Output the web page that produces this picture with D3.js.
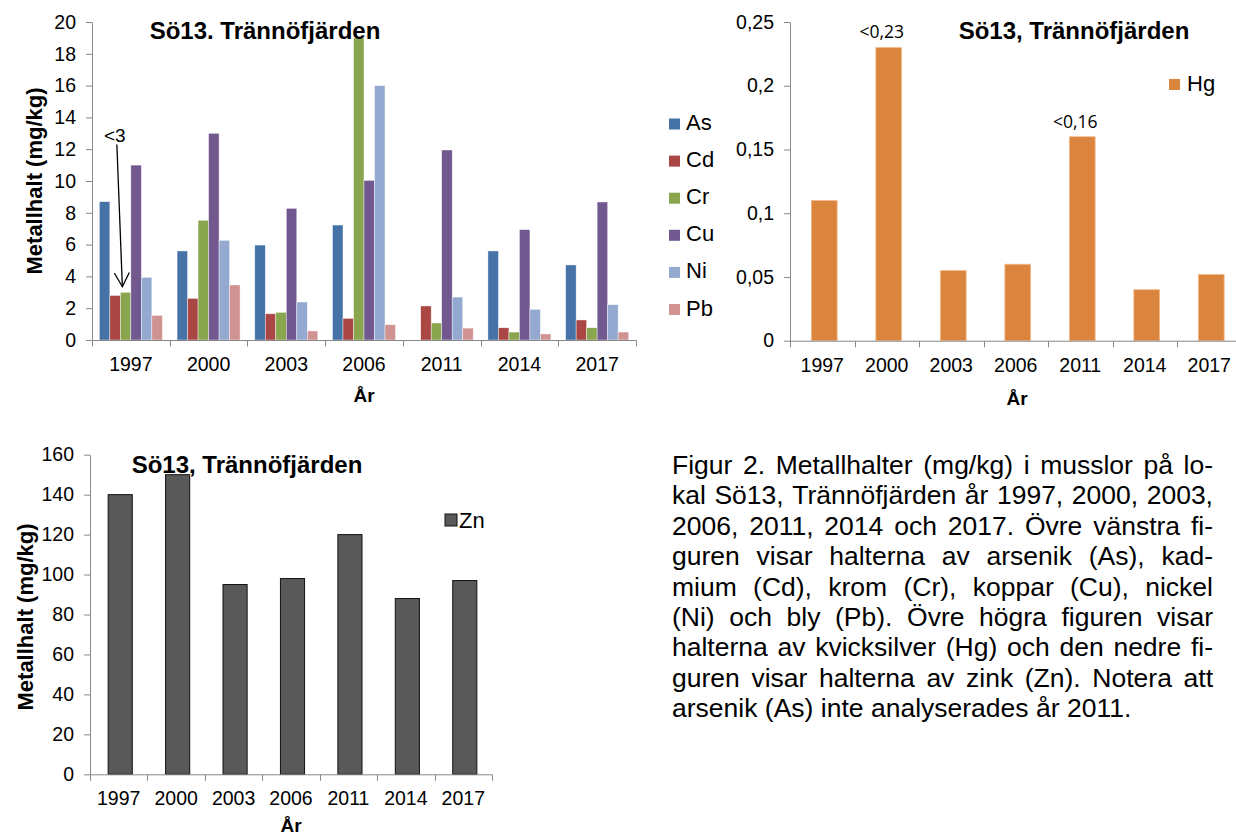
<!DOCTYPE html>
<html lang="sv">
<head>
<meta charset="UTF-8">
<title>Metallhalter Sö13, Trännöfjärden</title>
<script src="https://d3js.org/d3.v7.min.js"></script>
<style>
  body { margin: 0; background: #fff; }
  svg { display: block; font-family: "Liberation Sans", Arial, sans-serif; }
  .axis path, .axis line { stroke: #878787; stroke-width: 1; }
  .axis text { font-size: 19.5px; fill: #000; font-family: "Liberation Sans", Arial, sans-serif; }
  .title { font-size: 24px; font-weight: bold; }
  .ytitle { font-size: 22px; font-weight: bold; }
  .xtitle { font-size: 19px; font-weight: bold; }
  .legend text { font-size: 22px; }
  .note { font-family: "Open Sans", sans-serif; font-size: 17.5px; }
  .caption { font-size: 26.5px; }
</style>
</head>
<body>
<svg id="fig" width="1236" height="838"></svg>
<script>
  // data
  const years = ["1997", "2000", "2003", "2006", "2011", "2014", "2017"];
  const metals = ["As", "Cd", "Cr", "Cu", "Ni", "Pb"];
  const asVals = [8.7, 5.6, 5.97, 7.23, null, 5.6, 4.72];   // As not analysed 2011
  const cdVals = [2.8, 2.62, 1.65, 1.36, 2.14, 0.77, 1.26];
  const crVals = [3.0, 7.53, 1.74, 19.0, 1.07, 0.5, 0.77];
  const cuVals = [11.0, 13.0, 8.28, 10.04, 11.95, 6.94, 8.68];
  const niVals = [3.94, 6.27, 2.39, 16.0, 2.7, 1.93, 2.22];
  const pbVals = [1.55, 3.46, 0.57, 0.96, 0.75, 0.38, 0.5];
  const hgVals = [0.11, 0.23, 0.055, 0.06, 0.16, 0.04, 0.052];
  const hgNotes = ["", "<0,23", "", "", "<0,16", "", ""];
  const znVals = [140, 150, 95, 98, 120, 88, 97];

  const ticks1 = [0, 2, 4, 6, 8, 10, 12, 14, 16, 18, 20];
  const ticksHg = [0, 0.05, 0.1, 0.15, 0.2, 0.25];
  const ticksZn = [0, 20, 40, 60, 80, 100, 120, 140, 160];

  const metalColors = ["#4572a7", "#aa4643", "#89a54e", "#71588f", "#93a9cf", "#d19392"];
  const hgColor = "#db843d";
  const znColor = "#595959";

  const caption = [
    "Figur 2. Metallhalter (mg/kg) i musslor på lo-",
    "kal Sö13, Trännöfjärden år 1997, 2000, 2003,",
    "2006, 2011, 2014 och 2017. Övre vänstra fi-",
    "guren visar halterna av arsenik (As), kad-",
    "mium (Cd), krom (Cr), koppar (Cu), nickel",
    "(Ni) och bly (Pb). Övre högra figuren visar",
    "halterna av kvicksilver (Hg) och den nedre fi-",
    "guren visar halterna av zink (Zn). Notera att",
    "arsenik (As) inte analyserades år 2011."
  ];

  const svg = d3.select("#fig");
  const commaFmt = d3.formatLocale({ decimal: ",", thousands: " ", grouping: [3], currency: ["", ""] }).format("~g");

  // axes the way Excel draws them: ticks between categories
  function drawAxes(x, y, yTicks, fmt, labelGap) {
    const y0 = y.range()[0];
    svg.append("g").attr("class", "axis")
      .attr("transform", `translate(${x.range()[0]},0)`)
      .call(d3.axisLeft(y).tickValues(yTicks).tickFormat(fmt).tickSize(6).tickSizeOuter(0).tickPadding(10));
    const xa = svg.append("g").attr("class", "axis")
      .attr("transform", `translate(0,${y0})`)
      .call(d3.axisBottom(x).tickSize(0).tickPadding(labelGap));
    xa.selectAll(".sep")
      .data(d3.range(x.domain().length + 1))
      .join("line")
      .attr("class", "sep")
      .attr("x1", i => Math.round(x.range()[0] + i * x.step()) + 0.5)
      .attr("x2", i => Math.round(x.range()[0] + i * x.step()) + 0.5)
      .attr("y1", 0.5)
      .attr("y2", 6.5);
  }

  // ---- top left: As, Cd, Cr, Cu, Ni, Pb ----
  const x1 = d3.scaleBand().domain(years).range([92, 636]);
  const xm = d3.scaleBand().domain(metals).range([0, x1.bandwidth()]).paddingOuter(0.7);
  const y1 = d3.scaleLinear().domain([0, 20]).range([340, 22]);
  const series1 = [asVals, cdVals, crVals, cuVals, niVals, pbVals];

  metals.forEach((m, j) => {
    svg.append("g")
      .selectAll("rect")
      .data(years.map((yr, i) => ({ yr, v: series1[j][i] })).filter(d => d.v != null))
      .join("rect")
      .attr("x", d => x1(d.yr) + xm(m))
      .attr("y", d => y1(d.v))
      .attr("width", xm.bandwidth())
      .attr("height", d => y1(0) - y1(d.v))
      .attr("fill", metalColors[j])
      .attr("stroke", "#fff")
      .attr("stroke-width", 0.6)
      .attr("stroke-opacity", 0.7);
  });
  drawAxes(x1, y1, ticks1, d3.format("d"), 17);

  svg.append("text").attr("class", "title").attr("x", 265).attr("y", 39)
    .attr("text-anchor", "middle").text("Sö13. Trännöfjärden");
  svg.append("text").attr("class", "ytitle")
    .attr("transform", "translate(42,181) rotate(-90)")
    .attr("text-anchor", "middle").text("Metallhalt (mg/kg)");
  svg.append("text").attr("class", "xtitle").attr("x", 364).attr("y", 402)
    .attr("text-anchor", "middle").text("År");

  const leg1 = svg.append("g").attr("class", "legend");
  metals.forEach((m, j) => {
    const yc = 124 + j * 37.1;
    leg1.append("rect").attr("x", 669).attr("y", yc - 5.5).attr("width", 11).attr("height", 11)
      .attr("fill", metalColors[j]);
    leg1.append("text").attr("x", 686).attr("y", yc + 6).text(m);
  });

  // "<3" arrow pointing at Cr 1997
  svg.append("defs").append("marker")
    .attr("id", "vhead")
    .attr("markerUnits", "userSpaceOnUse")
    .attr("markerWidth", 18).attr("markerHeight", 18)
    .attr("refX", 14).attr("refY", 8)
    .attr("orient", "auto")
    .append("path")
    .attr("d", "M0,0.5 L14,8 L0,15.5")
    .attr("fill", "none").attr("stroke", "#000").attr("stroke-width", 1.3);

  const tipX = x1("1997") + xm("Cr") + 2;
  const tipY = y1(3.35);
  const startX = tipX - 5.5;
  const startY = y1(12.3);
  svg.append("line")
    .attr("x1", startX).attr("y1", startY).attr("x2", tipX).attr("y2", tipY)
    .attr("stroke", "#000").attr("stroke-width", 1.3)
    .attr("marker-end", "url(#vhead)");
  svg.append("text").attr("x", startX - 2).attr("y", startY - 2)
    .attr("text-anchor", "middle").style("font-size", "19px").text("<3");

  // ---- top right: Hg ----
  const x2 = d3.scaleBand().domain(years).range([790, 790 + 64.5 * years.length]);
  const y2 = d3.scaleLinear().domain([0, 0.25]).range([340.7, 22]);
  const bw2 = x2.bandwidth() * 0.4;

  svg.append("g")
    .selectAll("rect")
    .data(hgVals)
    .join("rect")
    .attr("x", (d, i) => x2(years[i]) + (x2.bandwidth() - bw2) / 2 + 2)
    .attr("y", d => y2(d))
    .attr("width", bw2)
    .attr("height", d => y2(0) - y2(d))
    .attr("fill", hgColor)
    .attr("stroke", "#f3bb8d")
    .attr("stroke-width", 0.8);

  svg.append("g")
    .selectAll("text")
    .data(hgNotes)
    .join("text")
    .attr("class", "note")
    .attr("x", (d, i) => x2(years[i]) + x2.bandwidth() / 2 - 5)
    .attr("y", (d, i) => y2(hgVals[i]) - 9)
    .attr("text-anchor", "middle")
    .text(d => d);

  drawAxes(x2, y2, ticksHg, commaFmt, 17);

  svg.append("text").attr("class", "title").attr("x", 1074).attr("y", 39)
    .attr("text-anchor", "middle").text("Sö13, Trännöfjärden");
  svg.append("text").attr("class", "xtitle").attr("x", 1017).attr("y", 405)
    .attr("text-anchor", "middle").text("År");
  const leg2 = svg.append("g").attr("class", "legend");
  leg2.append("rect").attr("x", 1169).attr("y", 79).attr("width", 11).attr("height", 11).attr("fill", hgColor);
  leg2.append("text").attr("x", 1187).attr("y", 91).text("Hg");

  // ---- bottom left: Zn ----
  const x3 = d3.scaleBand().domain(years).range([90, 492]);
  const y3 = d3.scaleLinear().domain([0, 160]).range([774.3, 454.7]);
  const bw3 = x3.bandwidth() * 0.42;

  svg.append("g")
    .selectAll("rect")
    .data(znVals)
    .join("rect")
    .attr("x", (d, i) => x3(years[i]) + (x3.bandwidth() - bw3) / 2 + 1.5)
    .attr("y", d => y3(d))
    .attr("width", bw3)
    .attr("height", d => y3(0) - y3(d))
    .attr("fill", znColor)
    .attr("stroke", "#111")
    .attr("stroke-width", 1);

  drawAxes(x3, y3, ticksZn, d3.format("d"), 16.5);

  svg.append("text").attr("class", "title").attr("x", 247).attr("y", 473)
    .attr("text-anchor", "middle").text("Sö13, Trännöfjärden");
  svg.append("text").attr("class", "ytitle")
    .attr("transform", "translate(33,617) rotate(-90)")
    .attr("text-anchor", "middle").text("Metallhalt (mg/kg)");
  svg.append("text").attr("class", "xtitle").attr("x", 291).attr("y", 832)
    .attr("text-anchor", "middle").text("År");
  const leg3 = svg.append("g").attr("class", "legend");
  leg3.append("rect").attr("x", 445).attr("y", 514).attr("width", 12).attr("height", 12)
    .attr("fill", znColor).attr("stroke", "#111").attr("stroke-width", 1);
  leg3.append("text").attr("x", 459).attr("y", 528).text("Zn");

  // ---- caption, justified by hand ----
  const capLeft = 672, capRight = 1213, capTop = 474, capStep = 30.4;
  const cap = svg.append("g").attr("class", "caption");
  caption.forEach((line, li) => {
    const words = line.split(" ");
    const yy = capTop + li * capStep;
    const nodes = words.map(w => cap.append("text").attr("y", yy).text(w));
    const widths = nodes.map(n => n.node().getComputedTextLength());
    const total = d3.sum(widths);
    const last = li === caption.length - 1;
    const gap = last ? 7.4 : (capRight - capLeft - total) / (words.length - 1);
    let xx = capLeft;
    nodes.forEach((n, k) => {
      n.attr("x", xx);
      xx += widths[k] + gap;
    });
  });
</script>
</body>
</html>
